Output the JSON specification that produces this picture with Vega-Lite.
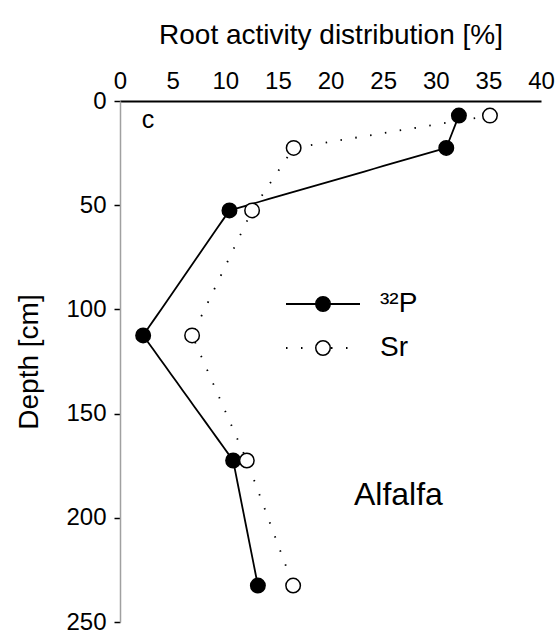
{
  "$schema": "https://vega.github.io/schema/vega-lite/v6.json",
  "width": 421,
  "height": 521,
  "autosize": {"type": "none"},
  "padding": {"left": 120, "top": 101, "right": 14, "bottom": 11},
  "background": "white",
  "config": {
    "view": {"stroke": null},
    "font": "Liberation Sans",
    "axis": {
      "labelFont": "Liberation Sans",
      "titleFont": "Liberation Sans",
      "grid": false,
      "labelColor": "black",
      "titleColor": "black",
      "titleFontWeight": "normal"
    },
    "legend": {"labelFont": "Liberation Sans", "labelColor": "black"}
  },
  "datasets": {
    "activity": [
      {"series": "³²P", "activity": 32.2, "depth": 7},
      {"series": "³²P", "activity": 31.0, "depth": 22.5},
      {"series": "³²P", "activity": 10.4, "depth": 52.5},
      {"series": "³²P", "activity": 2.2, "depth": 112.5},
      {"series": "³²P", "activity": 10.75, "depth": 172.5},
      {"series": "³²P", "activity": 13.1, "depth": 232.5},
      {"series": "Sr", "activity": 35.15, "depth": 7},
      {"series": "Sr", "activity": 16.5, "depth": 22.5},
      {"series": "Sr", "activity": 12.55, "depth": 52.5},
      {"series": "Sr", "activity": 6.85, "depth": 112.5},
      {"series": "Sr", "activity": 12.05, "depth": 172.5},
      {"series": "Sr", "activity": 16.45, "depth": 232.5}
    ],
    "panel": [{"note": "c"}],
    "crop": [{"note": "Alfalfa"}]
  },
  "layer": [
    {
      "data": {"name": "activity"},
      "mark": {"type": "line", "color": "black", "strokeWidth": 1.8},
      "encoding": {
        "x": {
          "field": "activity",
          "type": "quantitative",
          "scale": {"domain": [0, 40], "nice": false, "zero": false},
          "axis": {
            "orient": "top",
            "title": "Root activity distribution [%]",
            "values": [0, 5, 10, 15, 20, 25, 30, 35, 40],
            "ticks": false,
            "tickSize": 0,
            "domainColor": "black",
            "domainWidth": 2,
            "labelFontSize": 24,
            "labelFlush": false,
            "labelPadding": 8,
            "titleFontSize": 28,
            "titlePadding": 20
          }
        },
        "y": {
          "field": "depth",
          "type": "quantitative",
          "scale": {"domain": [0, 250], "reverse": true, "nice": false, "zero": false},
          "axis": {
            "orient": "left",
            "title": "Depth [cm]",
            "values": [0, 50, 100, 150, 200, 250],
            "tickSize": 6,
            "tickColor": "black",
            "tickWidth": 1.5,
            "domainColor": "#a0a0a0",
            "domainWidth": 1.5,
            "labelFontSize": 24,
            "labelFlush": false,
            "labelPadding": 8,
            "titleFontSize": 28,
            "titlePadding": 22
          }
        },
        "order": {"field": "depth", "type": "quantitative"},
        "strokeDash": {
          "field": "series",
          "type": "nominal",
          "scale": {"domain": ["³²P", "Sr"], "range": [[10, 0], [1.5, 13.5]]},
          "legend": {
            "orient": "none",
            "legendX": 165,
            "legendY": 188,
            "title": null,
            "padding": 0,
            "symbolType": "stroke",
            "symbolSize": 5476,
            "symbolStrokeColor": "black",
            "symbolStrokeWidth": 1.8,
            "clipHeight": 30,
            "rowPadding": 14,
            "labelExpr": "''",
            "labelFontSize": 28,
            "zindex": 0
          }
        }
      }
    },
    {
      "data": {"name": "activity"},
      "mark": {"type": "point", "filled": true, "size": 210, "stroke": "black", "strokeWidth": 1.5, "opacity": 1},
      "encoding": {
        "x": {"field": "activity", "type": "quantitative"},
        "y": {"field": "depth", "type": "quantitative"},
        "fill": {
          "field": "series",
          "type": "nominal",
          "sort": ["³²P", "Sr"],
          "scale": {"range": ["black", "white"]},
          "legend": {
            "orient": "none",
            "legendX": 189,
            "legendY": 188,
            "title": null,
            "padding": 0,
            "symbolType": "circle",
            "symbolSize": 210,
            "symbolStrokeColor": "black",
            "symbolStrokeWidth": 1.5,
            "symbolOpacity": 1,
            "clipHeight": 30,
            "rowPadding": 14,
            "labelFontSize": 28,
            "labelOffset": 43,
            "zindex": 1
          }
        }
      }
    },
    {
      "data": {"name": "panel"},
      "mark": {"type": "text", "fontSize": 25, "align": "center", "baseline": "alphabetic", "color": "black", "font": "Liberation Sans"},
      "encoding": {
        "x": {"datum": 2.66, "type": "quantitative"},
        "y": {"datum": 12.9, "type": "quantitative"},
        "text": {"field": "note", "type": "nominal"}
      }
    },
    {
      "data": {"name": "crop"},
      "mark": {"type": "text", "fontSize": 32, "align": "left", "baseline": "alphabetic", "color": "black", "font": "Liberation Sans"},
      "encoding": {
        "x": {"datum": 22.23, "type": "quantitative"},
        "y": {"datum": 193.9, "type": "quantitative"},
        "text": {"field": "note", "type": "nominal"}
      }
    }
  ]
}
